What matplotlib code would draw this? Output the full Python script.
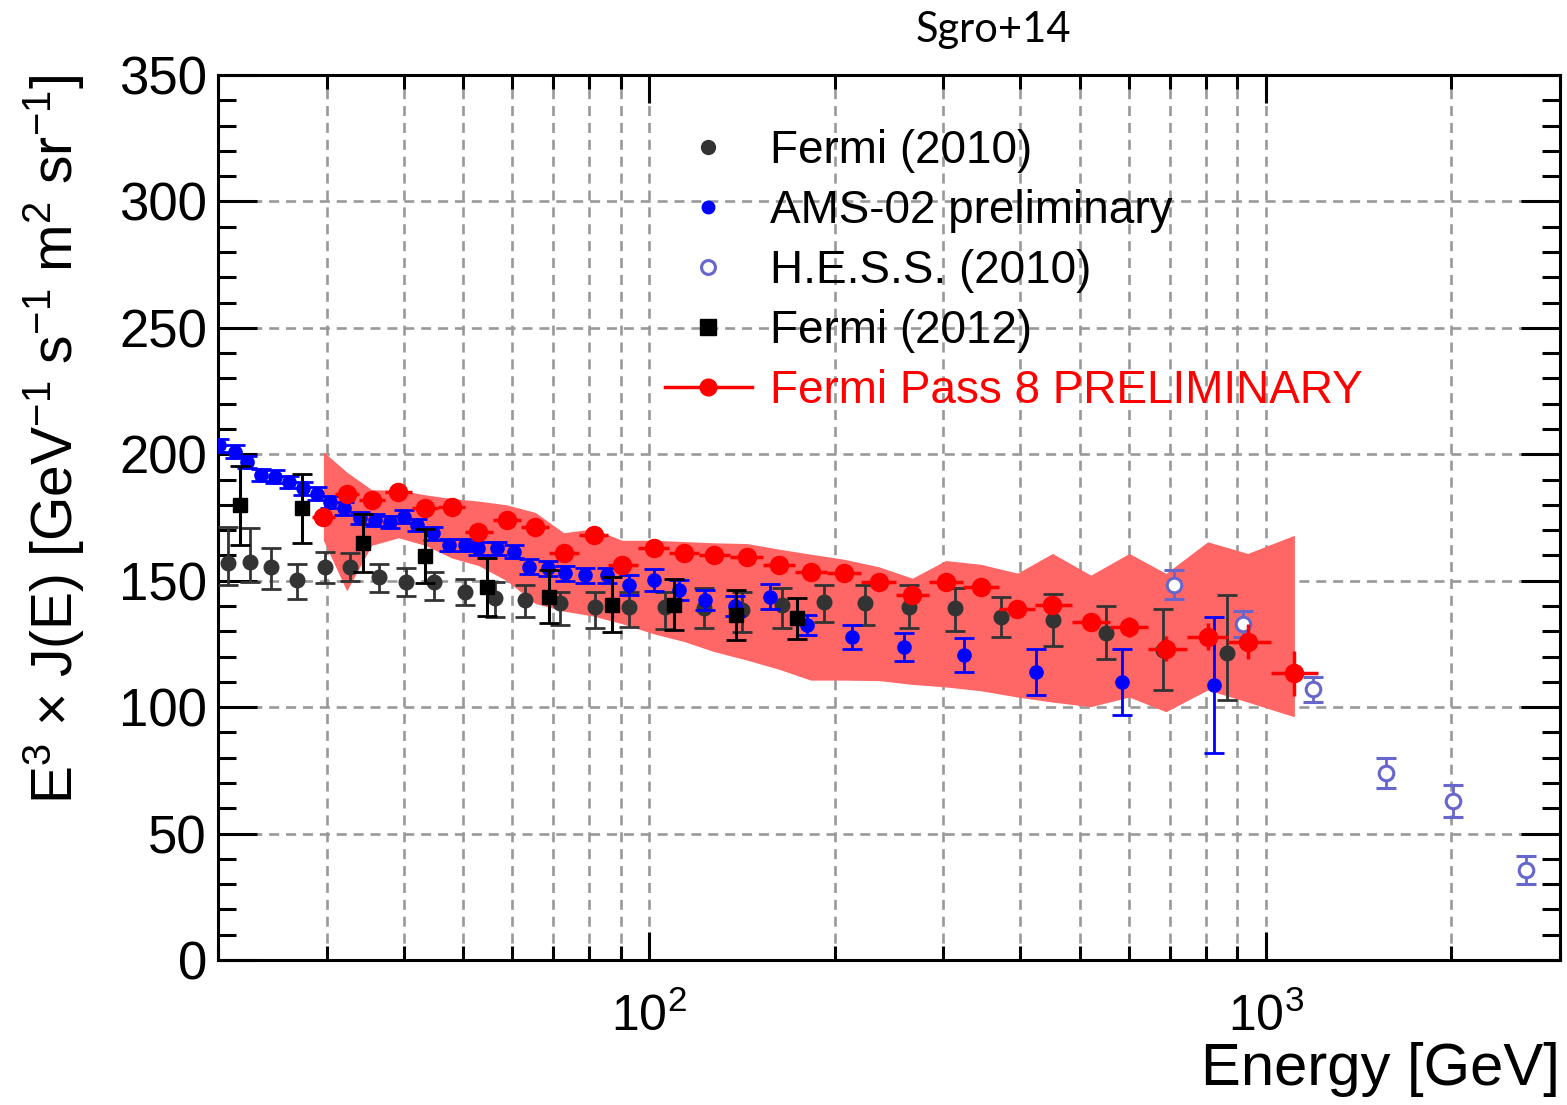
import numpy as np
import matplotlib
matplotlib.use('Agg')
import matplotlib.pyplot as plt
from matplotlib.lines import Line2D
from matplotlib.ticker import MultipleLocator, NullFormatter, LogLocator

plt.rcParams['font.family'] = ['Liberation Sans', 'DejaVu Sans']
plt.rcParams['mathtext.fontset'] = 'custom'
plt.rcParams['mathtext.rm'] = 'Liberation Sans'
plt.rcParams['mathtext.it'] = 'Liberation Sans:italic'
plt.rcParams['mathtext.bf'] = 'Liberation Sans:bold'

# Fermi (2010)
f10_E = [20.8, 22.5, 24.4, 26.9, 29.8, 32.8, 36.5, 40.3, 44.8, 50.3, 56.2, 62.9, 71.7, 81.6,
         92.7, 106.2, 122.7, 141.6, 164.4, 192.1, 224.2, 264, 314, 372.7, 452.7, 550, 680.5, 864.3]
f10_val = [156.9, 157.5, 155.5, 150.3, 155.5, 155.5, 151.6, 149.5, 149.5, 145.5, 143.1, 142.3, 141.2, 139.7,
           139.7, 139.7, 139.1, 138.4, 140.4, 141.7, 141.2, 139.7, 139.1, 135.6, 134.4, 129.3, 122.6, 121.4]
f10_up = [14.2, 13.4, 7.5, 6.3, 6.0, 5.5, 5.1, 5.5, 4.0, 5.1, 6.3, 5.9, 4.3, 5.9,
          6.0, 5.9, 7.9, 7.1, 6.7, 6.7, 7.1, 8.7, 7.9, 7.9, 10.3, 10.7, 16.2, 22.9]
f10_dn = [8.7, 7.9, 8.7, 7.5, 6.3, 5.5, 5.9, 5.5, 7.1, 5.1, 7.5, 6.7, 8.7, 8.3,
          8.0, 8.7, 7.9, 8.7, 9.1, 7.9, 8.7, 8.3, 9.1, 7.9, 10.3, 10.3, 15.8, 18.6]

# AMS-02 preliminary
ams_E = [20.1, 21.3, 22.3, 23.5, 24.7, 26.1, 27.5, 28.9, 30.4, 32.0, 34.0, 35.9, 38.0, 40.0,
         42.0, 44.7, 47.3, 50.3, 52.9, 56.7, 60.3, 63.8, 68.7, 73.1, 78.8, 85.5, 92.7, 101.8,
         111.7, 123.4, 137.9, 157.3, 180.5, 213.6, 259.1, 324.3, 423.8, 583.7, 823.5]
ams_val = [203.6, 201.0, 197.0, 191.8, 191.1, 189.1, 186.5, 184.5, 181.2, 178.6, 174.8, 174.0, 173.3, 175.3,
           172.0, 168.7, 164.1, 164.1, 162.8, 162.8, 161.5, 155.5, 154.9, 152.9, 152.2, 152.2, 148.3, 150.3,
           146.3, 142.3, 140.0, 143.7, 132.5, 127.8, 123.9, 120.6, 114.0, 110.0, 108.7]
ams_err = [2.5, 2.5, 2.5, 2.5, 2.5, 2.5, 2.5, 2.5, 2.5, 2.5, 2.5, 2.5, 2.5, 2.5,
           2.5, 2.5, 2.5, 2.5, 2.5, 2.5, 2.5, 3.0, 3.0, 3.0, 3.0, 3.0, 4.0, 4.5,
           4.0, 4.0, 4.0, 5.0, 4.0, 4.8, 5.6, 6.7, 9.0, 13.0, 27.0]

# H.E.S.S. (2010)
hess_E = [709, 917, 1192, 1568, 2012, 2646]
hess_val = [148.5, 132.9, 107.0, 74.0, 62.9, 35.6]
hess_err = [5.7, 5.0, 4.9, 5.8, 6.3, 5.6]

# Fermi (2012)
f12_E = [21.7, 27.4, 34.4, 43.4, 54.6, 68.8, 87.1, 109.7, 138.4, 174]
f12_val = [179.9, 178.6, 165.0, 159.7, 147.6, 143.7, 140.6, 140.6, 136.4, 135.1]
f12_err = [15.6, 13.5, 11.5, 10.7, 11.5, 10.5, 10.7, 10.0, 10.0, 8.0]

# Fermi Pass 8 PRELIMINARY
p8_E = [29.65, 32.34, 35.5, 39.24, 43.35, 47.88, 52.9, 58.8, 65.4, 72.7,
        81.3, 90.4, 101.8, 113.8, 127.4, 144.2, 162.4, 182.8, 207.1, 236,
        267.3, 302.7, 345, 395.8, 451, 520.4, 600.7, 688.9, 805.1, 935, 1113]
p8_val = [175.3, 184.5, 181.9, 185.2, 178.6, 179.2, 169.4, 174.0, 171.3, 160.8,
          168.0, 156.2, 162.8, 160.8, 160.1, 159.5, 156.2, 153.5, 152.9, 149.6,
          144.3, 149.6, 147.6, 139.0, 140.4, 133.8, 131.8, 123.2, 127.8, 125.9, 113.4]
p8_err = [3, 3, 3, 3, 3, 3, 3, 3, 3, 3,
          3, 3, 3, 3, 3, 3, 3, 3, 3, 3,
          3, 3, 3, 3, 3.5, 3.5, 4, 5, 5.3, 7, 9]
band_hi = [201, 193, 186, 185.8, 184, 182.5, 181.5, 180, 177, 169,
           170.5, 166, 166, 165.5, 165, 164.7, 162.5, 160.5, 158.5, 155.5,
           151, 158, 156.5, 153, 160.8, 152.2, 160.8, 152.9, 165.4, 160.8, 168]
band_lo = [166, 146, 164, 167, 164, 159, 156, 150, 141, 138,
           136, 133, 129, 126, 122, 118.6, 115, 110.7, 110.7, 110.5,
           109, 108, 106.5, 104, 102, 100.2, 104, 98.2, 106.8, 102, 96.2]

# x error bars of the pass 8 points: half way to the neighbouring bins (log scale)
logE = np.log10(p8_E)
mids = (logE[1:] + logE[:-1]) / 2
lo_edge = np.concatenate([[2 * logE[0] - mids[0]], mids])
hi_edge = np.concatenate([mids, [2 * logE[-1] - mids[-1]]])
p8_xerr = [np.array(p8_E) - 10 ** lo_edge, 10 ** hi_edge - np.array(p8_E)]

fig = plt.figure(figsize=(15.67, 11.05), dpi=100)
ax = fig.add_axes([0.1391, 0.1312, 0.8564, 0.8009])

ax.fill_between(p8_E, band_lo, band_hi, color='#ff6666', lw=0, zorder=1)

ax.errorbar(f10_E, f10_val, yerr=[f10_dn, f10_up], fmt='o', color='#333333', ms=10.5,
            elinewidth=2, capsize=7, capthick=2, zorder=3)
ax.errorbar(ams_E, ams_val, yerr=ams_err, fmt='o', color='#0000ff', ms=9.5,
            elinewidth=2, capsize=7, capthick=2, zorder=4)
ax.errorbar(hess_E, hess_val, yerr=hess_err, fmt='o', color='#6666cc', mfc='white', mec='#6666cc',
            ms=10.5, mew=2.2, elinewidth=2, capsize=7, capthick=2, zorder=4)
ax.errorbar(f12_E, f12_val, yerr=f12_err, fmt='s', color='black', ms=10.5,
            elinewidth=2.2, capsize=7, capthick=2, zorder=5)
ax.errorbar(p8_E, p8_val, yerr=p8_err, xerr=p8_xerr, fmt='o', color='#ff0000', ms=13,
            elinewidth=2.5, capsize=0, zorder=6)

ax.set_xscale('log')
ax.set_xlim(20, 3000)
ax.set_ylim(0, 350)
ax.xaxis.set_major_locator(LogLocator(base=10))
ax.xaxis.set_minor_locator(LogLocator(base=10, subs=np.arange(2, 10)))
ax.xaxis.set_minor_formatter(NullFormatter())
ax.yaxis.set_major_locator(MultipleLocator(50))
ax.yaxis.set_minor_locator(MultipleLocator(10))

ax.set_axisbelow(True)
ax.grid(True, which='major', axis='y', color='#999999', lw=1.9, ls=(0, (3.8, 2.6)))
ax.grid(True, which='both', axis='x', color='#999999', lw=1.9, ls=(0, (3.8, 2.6)))

for s in ax.spines.values():
    s.set_linewidth(2.2)
ax.tick_params(which='both', direction='in', top=True, right=True, width=2.2, colors='black')
ax.tick_params(axis='y', which='major', length=28, labelsize=38, pad=8)
ax.tick_params(axis='y', which='minor', length=13)
ax.tick_params(axis='x', which='major', length=20, labelsize=36, pad=24)
ax.tick_params(axis='x', which='minor', length=10)

ax.set_ylabel('E$^{3}$ × J(E) [GeV$^{-1}$ s$^{-1}$ m$^{2}$ sr$^{-1}$]', fontsize=41, loc='top')
ax.yaxis.set_label_coords(-0.0976, 1.0)
ax.set_xlabel('Energy [GeV]', fontsize=43, loc='right')
ax.xaxis.set_label_coords(1.0, -0.093)

handles = [
    Line2D([], [], marker='o', ls='none', color='#333333', ms=10),
    Line2D([], [], marker='o', ls='none', color='#0000ff', ms=9),
    Line2D([], [], marker='o', ls='none', color='#6666cc', mfc='white', ms=10, mew=2.2),
    Line2D([], [], marker='s', ls='none', color='black', ms=11),
    Line2D([], [], marker='o', ls='-', lw=2.5, color='#ff0000', ms=12),
]
labels = ['Fermi (2010)', 'AMS-02 preliminary', 'H.E.S.S. (2010)', 'Fermi (2012)',
          'Fermi Pass 8 PRELIMINARY']
leg = ax.legend(handles, labels, loc='upper left', bbox_to_anchor=(0.333, 0.9395),
                frameon=False, fontsize=33, borderpad=0, borderaxespad=0,
                handlelength=1.9, handletextpad=0.39, labelspacing=0.35)
leg.get_texts()[4].set_color('#ff0000')

fig.text(0.634, 0.962, 'Sgro+14', ha='center', va='baseline', fontsize=30,
         family=['Lato', 'DejaVu Sans'])

fig.savefig('out.png', dpi=100)
